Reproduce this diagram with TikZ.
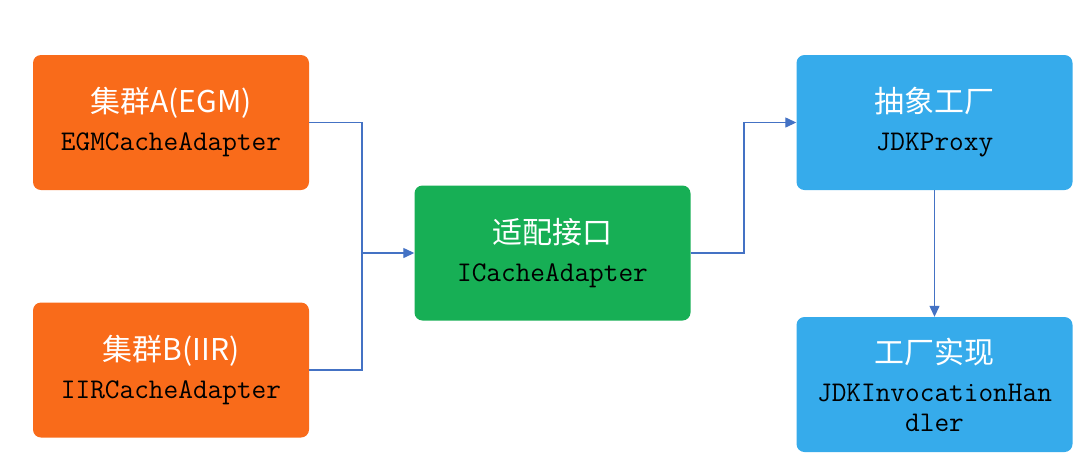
\documentclass[tikz,border=0pt]{standalone}
\usepackage{fontspec}
\newfontfamily\cjk{Noto Sans CJK SC}
\usetikzlibrary{arrows.meta}

\begin{document}
\begin{tikzpicture}[x=1pt, y=-1pt]
        % Farben
        \definecolor{boxOrange}{HTML}{F96B1A}
        \definecolor{boxGreen}{HTML}{17AF55}
        \definecolor{boxBlue}{HTML}{36ABEB}
        \definecolor{linkBlue}{HTML}{4472C4}

        \tikzset{
            card/.style={rectangle, rounded corners=8pt, draw=none,
                minimum width=276pt, minimum height=135pt, inner sep=0pt,
                align=center, text=black,
                font=\ttfamily\fontsize{28.5}{30}\selectfont},
            link/.style={draw=linkBlue, line width=1.3pt},
            tip/.style={-{Triangle[length=11pt, width=10pt]}}
        }
        \newcommand{\cnline}[1]{{\cjk\fontsize{30}{30}\selectfont\color{white}#1}\\[8pt]}

        \useasboundingbox (0,0) rectangle (1089,459);

        % Kaesten
        \node[card, fill=boxOrange] (egm) at (171,122.5)
            {\cnline{集群A(EGM)}EGMCacheAdapter};
        \node[card, fill=boxOrange] (iir) at (171,370)
            {\cnline{集群B(IIR)}IIRCacheAdapter};
        \node[card, fill=boxGreen] (adapter) at (552.5,253)
            {\cnline{适配接口}ICacheAdapter};
        \node[card, fill=boxBlue] (proxy) at (934.5,122.5)
            {\cnline{抽象工厂}JDKProxy};
        \node[card, fill=boxBlue] (handler) at (934.5,384.5)
            {\cnline{工厂实现}JDKInvocationHan\\dler};

        % Verbindungen
        \coordinate (joinL) at (362,253);
        \coordinate (joinR) at (744,253);
        \draw[link, tip] (egm.east) -| (joinL) -- (adapter.west);
        \draw[link] (iir.east) -| (joinL);
        \draw[link, tip] (adapter.east) -- (joinR) |- (proxy.west);
        \draw[link, tip] (proxy.south) -- (handler.north);
\end{tikzpicture}
\end{document}
